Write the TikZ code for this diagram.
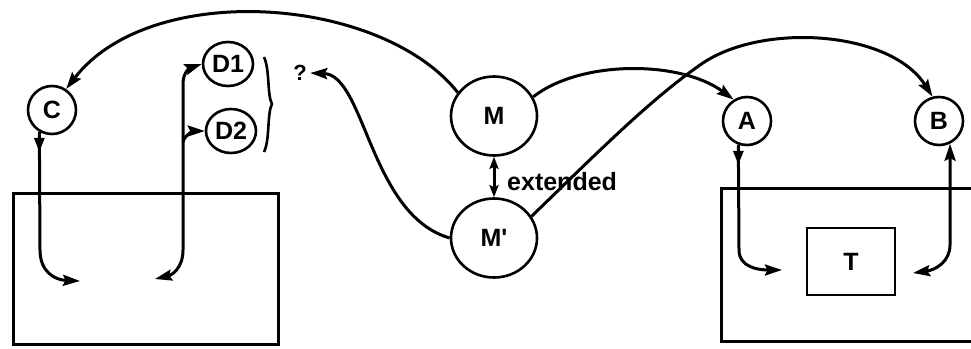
\documentclass[tikz,border=0pt]{standalone}
\usepackage{fontspec}
\setmainfont{Liberation Sans}
\usetikzlibrary{arrows.meta,shapes.geometric}
\begin{document}
\begin{tikzpicture}[x=1pt,y=-1pt,
  every node/.style={font=\bfseries\fontsize{25}{25}\selectfont},
  state/.style={circle,draw,line width=2.6pt,minimum size=48pt,inner sep=0pt},
  dstate/.style={ellipse,draw,line width=2.6pt,minimum width=50pt,minimum height=44pt,inner sep=0pt},
  mstate/.style={ellipse,draw,line width=2.6pt,minimum width=86pt,minimum height=79pt,inner sep=0pt},
  frame/.style={draw,line width=3pt,inner sep=0pt},
  flow/.style={line width=3pt},
  >={Stealth[length=17pt,width=11pt,inset=2.5pt]},
  outtip/.tip={Triangle[length=14pt,width=10pt]},
  smalltip/.tip={Stealth[length=12pt,width=9pt,inset=2pt]},
]
\useasboundingbox (0,0) rectangle (971,348);
\clip (0,0) rectangle (971,348);

% states
\node[state]  (C)  at (52,110)  {C};
\node[dstate] (D1) at (228,64)  {D1};
\node[dstate] (D2) at (231,131) {D2};
\node[mstate] (M)  at (494,116) {M};
\node[mstate] (Mp) at (494,238) {M\textquotesingle};
\node[state]  (A)  at (747,121) {A};
\node[state]  (B)  at (939,121) {B};

% frames
\node[frame,minimum width=265pt,minimum height=151pt,anchor=north west] (L) at (12,192) {};
\node[frame,minimum width=270pt,minimum height=153pt,anchor=north west] (R) at (720,187) {};
\node[frame,line width=2.6pt,minimum width=88pt,minimum height=67pt] (T) at (851,261.5) {T};

% labels
\node[font=\bfseries\fontsize{22}{22}\selectfont] (q) at (300,73) {?};
\node[anchor=west,inner sep=0pt] (ext) at (507,182) {extended};

% brace grouping D1 and D2
\draw[line width=2.6pt] (264,57) .. controls (270,70) and (267,95) .. (272,104)
  .. controls (267,113) and (270,140) .. (264,152);

% free ends inside the frames
\coordinate (cin)  at (80,281);
\coordinate (dout) at (155,279);
\coordinate (dbr)  at (183,142);
\coordinate (ain)  at (782,270);
\coordinate (bout) at (913,273);

% connectors
\draw[flow,->] (M.147) .. controls (380,-5) and (150,-20) .. (C.56);
\draw[flow,->] (Mp.west) .. controls (370,215) and (365,75) .. (q.east);
\draw[flow,->] (M.26) .. controls (580,60) and (680,60) .. (A.122);
\draw[flow,->] (Mp.30) .. controls (600,150) and (650,100) .. (700,65)
  .. controls (760,22) and (890,30) .. (B.105);
\draw[flow,smalltip-smalltip] (M.south) -- (Mp.north);

% flows out of C and A, with a direction mark just below each state
\draw[flow,->] (C.240) -- (40,250) .. controls (40,272) and (55,280) .. (cin);
\draw[flow,-outtip] (C.240) -- ++(0,20);
\draw[flow,->] (A.250) -- (739,250) .. controls (739,268) and (760,270) .. (ain);
\draw[flow,-outtip] (A.250) -- ++(0,20);

% flows into D1, D2 and B
\draw[flow,<->] (dout) .. controls (172,275) and (183,268) .. (183,250) -- (183,84)
  .. controls (183,72) and (190,68) .. (D1.west);
\draw[flow,->] (dbr) .. controls (185,134) and (195,131) .. (D2.west);
\draw[flow,<->] (bout) .. controls (935,270) and (950,262) .. (950,245) -- (B.296);
\end{tikzpicture}
\end{document}
